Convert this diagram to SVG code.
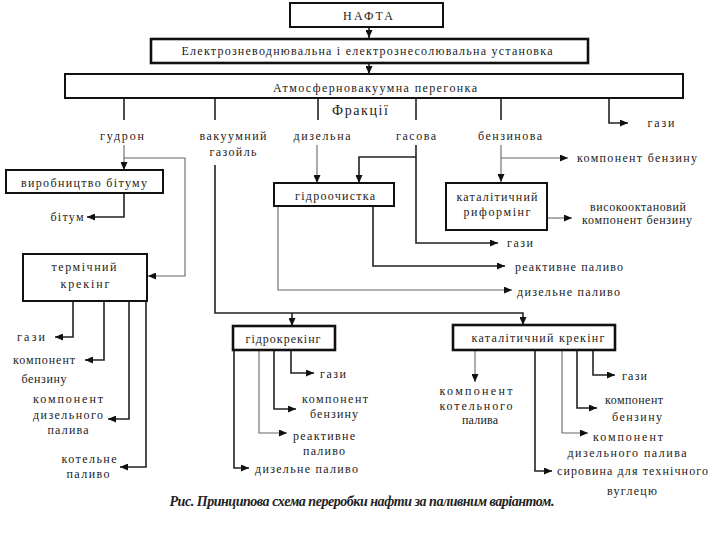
<svg xmlns="http://www.w3.org/2000/svg" width="720" height="540" viewBox="0 0 720 540">
<style>
text{font-family:"Liberation Serif","Times New Roman",serif;font-size:12px;fill:#222;text-anchor:middle}
.s{text-anchor:start}
.e{text-anchor:end}
.box{fill:#fff;stroke:#111;stroke-width:2}
.bx{fill:#fff;stroke:#111;stroke-width:2.6}
.c{fill:none;stroke:#222;stroke-width:1.6}
.t{fill:none;stroke:#666;stroke-width:1.1}
.a{marker-end:url(#ah)}
</style>
<defs>
<marker id="ah" markerUnits="userSpaceOnUse" markerWidth="9" markerHeight="7" refX="8" refY="3.5" orient="auto">
<path d="M0,0 L8,3.5 L0,7 z" fill="#111"/>
</marker>
</defs>
<rect width="720" height="540" fill="#fff"/>

<g id="connectors">
<path class="c a" d="M369,27 V38"/>
<path class="c a" d="M369,63 V74"/>
<path class="c" d="M124,98 V120 M215,98 V120 M318,98 V120 M416,98 V120 M501,98 V120"/>
<path class="c a" d="M609,98 V123 H628"/>
<path class="t a" d="M124,145 V170"/>
<path class="t a" d="M124,158 H185 V276 H148"/>
<path class="c a" d="M124,193 V217 H87"/>
<path class="c a" d="M73,301 V337 H55"/>
<path class="c a" d="M104,301 V360 H85"/>
<path class="c a" d="M129,301 V419 H108"/>
<path class="c a" d="M146,301 V467 H120"/>
<path class="t a" d="M317,145 V183"/>
<path class="c a" d="M416,145 V243 H498"/>
<path class="c a" d="M416,157 H359 V183"/>
<path class="c a" d="M373,206 V266 H505"/>
<path class="t a" d="M278,206 V290 H512"/>
<path class="t a" d="M501,145 V182"/>
<path class="t a" d="M501,158 H568"/>
<path class="t a" d="M547,218 H572"/>
<path class="c a" d="M215,165 V313 H523 V325"/>
<path class="c a" d="M292,313 V326"/>
<path class="c a" d="M291,350 V373 H314"/>
<path class="c a" d="M274,350 V409 H296"/>
<path class="t a" d="M259,350 V433 H287"/>
<path class="c a" d="M234,350 V468 H249"/>
<path class="t a" d="M475,350 V382"/>
<path class="c a" d="M593,350 V375 H615"/>
<path class="c a" d="M577,350 V408 H597"/>
<path class="t a" d="M562,350 V433 H588"/>
<path class="c a" d="M535,350 V471 H552"/>
</g>

<g id="nafta"><rect class="box" x="290" y="3" width="153" height="24"/><text x="368" y="20" textLength="50" lengthAdjust="spacing">НАФТА</text></g>
<g id="elou"><rect class="bx" x="151" y="39" width="437" height="24"/><text x="367" y="55" textLength="371" lengthAdjust="spacing">Електрозневоднювальна і електрознесолювальна установка</text></g>
<g id="avt"><rect class="box" x="65" y="74" width="618" height="24"/><text x="375" y="92" textLength="204" lengthAdjust="spacing">Атмосферновакуумна перегонка</text></g>
<g id="fractions"><text x="360" y="115" style="font-size:14px" textLength="56" lengthAdjust="spacing">Фракції</text></g>

<g id="gudron"><text x="122" y="140" textLength="44" lengthAdjust="spacing">гудрон</text></g>
<g id="vacgas"><text x="233" y="140" textLength="67" lengthAdjust="spacing">вакуумний</text><text x="233" y="156" textLength="47" lengthAdjust="spacing">газойль</text></g>
<g id="dizelna"><text x="322" y="140" textLength="57" lengthAdjust="spacing">дизельна</text></g>
<g id="gasova"><text x="416" y="140" textLength="40" lengthAdjust="spacing">гасова</text></g>
<g id="benzynova"><text x="510" y="140" textLength="64" lengthAdjust="spacing">бензинова</text></g>
<g id="gazy1"><text x="661" y="127" textLength="27" lengthAdjust="spacing">гази</text></g>

<g id="bitumprod"><rect class="box" x="6" y="170" width="157" height="23"/><text x="84" y="187" textLength="126" lengthAdjust="spacing">виробництво бітуму</text></g>
<g id="bitum"><text x="67" y="221" textLength="33" lengthAdjust="spacing">бітум</text></g>

<g id="termkrek"><rect class="box" x="23" y="254" width="124" height="47"/><text x="84" y="271" textLength="65" lengthAdjust="spacing">термічний</text><text x="85" y="288" textLength="49" lengthAdjust="spacing">крекінг</text></g>
<g id="tk-gazy"><text x="31" y="341" textLength="28" lengthAdjust="spacing">гази</text></g>
<g id="tk-benz"><text x="44" y="364" textLength="62" lengthAdjust="spacing">компонент</text><text x="44" y="383" textLength="45" lengthAdjust="spacing">бензину</text></g>
<g id="tk-diz"><text x="68" y="403" textLength="70" lengthAdjust="spacing">компонент</text><text x="68" y="419" textLength="70" lengthAdjust="spacing">дизельного</text><text x="68" y="434" textLength="41" lengthAdjust="spacing">палива</text></g>
<g id="tk-kot"><text x="89" y="463" textLength="55" lengthAdjust="spacing">котельне</text><text x="88" y="478" textLength="43" lengthAdjust="spacing">паливо</text></g>

<g id="gidroochystka"><rect class="box" x="274" y="183" width="120" height="23"/><text x="335" y="200" textLength="80" lengthAdjust="spacing">гідроочистка</text></g>
<g id="go-gazy"><text class="s" x="507" y="247" textLength="26" lengthAdjust="spacing">гази</text></g>
<g id="go-reakt"><text class="s" x="515" y="271" textLength="108" lengthAdjust="spacing">реактивне паливо</text></g>
<g id="go-diz"><text class="s" x="517" y="296" textLength="103" lengthAdjust="spacing">дизельне паливо</text></g>

<g id="komp-benz1"><text class="s" x="577" y="162" textLength="120" lengthAdjust="spacing">компонент бензину</text></g>
<g id="reforming"><rect class="box" x="446" y="183" width="101" height="47"/><text x="497" y="201" textLength="81" lengthAdjust="spacing">каталітичний</text><text x="497" y="216" textLength="67" lengthAdjust="spacing">риформінг</text></g>
<g id="vysokookt"><text x="638" y="211" textLength="96" lengthAdjust="spacing">високооктановий</text><text x="637" y="224" textLength="110" lengthAdjust="spacing">компонент бензину</text></g>

<g id="gidrokrek"><rect class="bx" x="233" y="326" width="102" height="24"/><text x="283" y="343" textLength="75" lengthAdjust="spacing">гідрокрекінг</text></g>
<g id="gk-gazy"><text class="s" x="320" y="378" textLength="26" lengthAdjust="spacing">гази</text></g>
<g id="gk-benz"><text x="335" y="403" textLength="66" lengthAdjust="spacing">компонент</text><text x="334" y="418" textLength="48" lengthAdjust="spacing">бензину</text></g>
<g id="gk-reakt"><text x="324" y="440" textLength="62" lengthAdjust="spacing">реактивне</text><text x="324" y="455" textLength="42" lengthAdjust="spacing">паливо</text></g>
<g id="gk-diz"><text class="s" x="255" y="473" textLength="103" lengthAdjust="spacing">дизельне паливо</text></g>

<g id="katkrek"><rect class="bx" x="453" y="325" width="162" height="25"/><text x="538" y="342" textLength="133" lengthAdjust="spacing">каталітичний крекінг</text></g>
<g id="kk-kot"><text x="476" y="395" textLength="73" lengthAdjust="spacing">компонент</text><text x="476" y="410" textLength="73" lengthAdjust="spacing">котельного</text><text x="480" y="424" textLength="36" lengthAdjust="spacing">палива</text></g>
<g id="kk-gazy"><text class="s" x="622" y="380" textLength="25" lengthAdjust="spacing">гази</text></g>
<g id="kk-benz"><text x="634" y="404" textLength="58" lengthAdjust="spacing">компонент</text><text x="637" y="421" textLength="50" lengthAdjust="spacing">бензину</text></g>
<g id="kk-diz"><text x="628" y="441" textLength="70" lengthAdjust="spacing">компонент</text><text x="627" y="457" textLength="119" lengthAdjust="spacing">дизельного палива</text></g>
<g id="kk-syr"><text class="s" x="557" y="475" textLength="151" lengthAdjust="spacing">сировина для технічного</text><text x="632" y="495" textLength="50" lengthAdjust="spacing">вуглецю</text></g>

<g id="caption"><text x="362" y="506" style="font-size:14px;font-style:italic;font-weight:bold" textLength="385" lengthAdjust="spacing">Рис. Принципова схема переробки нафти за паливним варіантом.</text></g>
</svg>
